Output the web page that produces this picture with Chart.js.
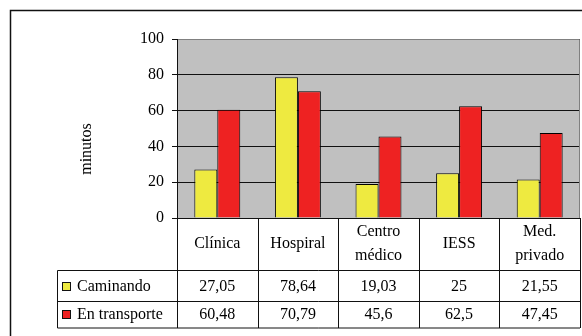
<!DOCTYPE html>
<html>
<head>
<meta charset="utf-8">
<script src="https://cdn.jsdelivr.net/npm/chart.js@4/dist/chart.umd.min.js"></script>
<style>
  html, body { margin: 0; padding: 0; background: #fff; }
  #wrap { width: 582px; height: 336px; }
</style>
</head>
<body>
<div id="wrap"><canvas id="c" width="582" height="336"></canvas></div>
<script>
// Travel time (minutes) to each kind of health service
const categories = [["Clínica"], ["Hospiral"], ["Centro", "médico"], ["IESS"], ["Med.", "privado"]];
const walking = [27.05, 78.64, 19.03, 25, 21.55];
const transport = [60.48, 70.79, 45.6, 62.5, 47.45];
const seriesNames = ["Caminando", "En transporte"];
const yTicks = [0, 20, 40, 60, 80, 100];

const FONT = "Liberation Serif, 'Times New Roman', serif";
const SIZE = 16;
const YELLOW = "#EEEA40";
const RED = "#EE2222";

const fmt = v => String(v).replace(".", ",");

// Grey plot background, outer frame, plot border and axis title
const background = {
  id: "background",
  beforeDraw(chart) {
    const { ctx, chartArea: a } = chart;
    ctx.save();
    ctx.fillStyle = "#fff";
    ctx.fillRect(0, 0, chart.width, chart.height);
    ctx.fillStyle = "#C0C0C0";
    ctx.fillRect(a.left, a.top, a.right - a.left, a.bottom - a.top);
    // outer chart frame (continues past the canvas edges)
    ctx.strokeStyle = "#111";
    ctx.lineWidth = 1.5;
    ctx.strokeRect(10.5, 10.5, 800, 600);
    // axis title
    ctx.fillStyle = "#000";
    ctx.font = SIZE + "px " + FONT;
    ctx.translate(87, 149);
    ctx.rotate(-Math.PI / 2);
    ctx.textAlign = "center";
    ctx.textBaseline = "middle";
    ctx.fillText("minutos", 0, 0);
    ctx.restore();
  },
  beforeDatasetsDraw(chart) {
    const { ctx, chartArea: a } = chart;
    ctx.save();
    ctx.strokeStyle = "#808080";
    ctx.lineWidth = 1;
    ctx.beginPath();
    ctx.moveTo(a.left + 1, a.top + 0.5);
    ctx.lineTo(a.right - 0.5, a.top + 0.5);
    ctx.lineTo(a.right - 0.5, a.bottom);
    ctx.stroke();
    ctx.restore();
  }
};

// Data table under the plot: category names, then one row per series
const dataTable = {
  id: "dataTable",
  afterDraw(chart) {
    const { ctx, chartArea: a } = chart;
    const xs = chart.scales.x;
    const n = categories.length;
    const cw = (a.right - a.left) / n;
    const top = a.bottom;
    const rowTop = [top, 270.5, 301.5];
    const bottom = 328;
    const legendLeft = 57.5;
    const rows = [walking, transport];
    const colors = [YELLOW, RED];

    ctx.save();
    ctx.strokeStyle = "#111";
    ctx.lineWidth = 1;
    ctx.beginPath();
    for (let i = 0; i <= n; i++) {
      const x = Math.round(a.left + i * cw) + 0.5;
      ctx.moveTo(x, top);
      ctx.lineTo(x, bottom);
    }
    ctx.moveTo(legendLeft, rowTop[1]);
    ctx.lineTo(legendLeft, bottom);
    [rowTop[1], rowTop[2], bottom].forEach(y => {
      ctx.moveTo(legendLeft, y);
      ctx.lineTo(a.right, y);
    });
    ctx.stroke();

    ctx.fillStyle = "#000";
    ctx.font = SIZE + "px " + FONT;
    ctx.textAlign = "center";
    ctx.textBaseline = "middle";
    const hMid = (rowTop[0] + rowTop[1]) / 2;
    categories.forEach((lines, i) => {
      const cx = xs.getPixelForValue(i);
      const lh = 24;
      lines.forEach((t, k) => {
        const y = hMid + (k - (lines.length - 1) / 2) * lh;
        ctx.fillText(t, cx, y);
      });
    });
    rows.forEach((vals, r) => {
      const y0 = rowTop[r + 1];
      const y1 = r + 2 < rowTop.length ? rowTop[r + 2] : bottom;
      const my = (y0 + y1) / 2 + 0.5;
      vals.forEach((v, i) => {
        ctx.fillText(fmt(v), xs.getPixelForValue(i), my);
      });
      ctx.fillStyle = colors[r];
      ctx.fillRect(62.5, Math.round(my) - 4.5, 8, 8);
      ctx.strokeRect(62.5, Math.round(my) - 4.5, 8, 8);
      ctx.fillStyle = "#000";
      ctx.textAlign = "left";
      ctx.fillText(seriesNames[r], 77, my);
      ctx.textAlign = "center";
    });
    ctx.restore();
  }
};

new Chart(document.getElementById("c"), {
  type: "bar",
  data: {
    labels: categories.map(c => c.join(" ")),
    datasets: [
      { label: seriesNames[0], data: walking, backgroundColor: YELLOW, borderColor: "#000", borderWidth: 1 },
      { label: seriesNames[1], data: transport, backgroundColor: RED, borderColor: "#000", borderWidth: 1 }
    ]
  },
  options: {
    responsive: false,
    devicePixelRatio: 1,
    animation: false,
    categoryPercentage: 0.57,
    barPercentage: 1.0,
    layout: { padding: { top: 39, right: 2, bottom: 118, left: 0 } },
    plugins: { legend: { display: false }, tooltip: { enabled: false } },
    scales: {
      x: { display: false },
      y: {
        min: 0, max: 100,
        afterBuildTicks: s => { s.ticks = yTicks.map(v => ({ value: v })); },
        afterFit: s => { s.width = 177; },
        ticks: { color: "#000", padding: 8, font: { family: FONT, size: SIZE } },
        grid: { color: "#111", lineWidth: 1, tickLength: 5, tickColor: "#111" },
        border: { color: "#111", width: 1 }
      }
    }
  },
  plugins: [background, dataTable]
});
</script>
</body>
</html>
